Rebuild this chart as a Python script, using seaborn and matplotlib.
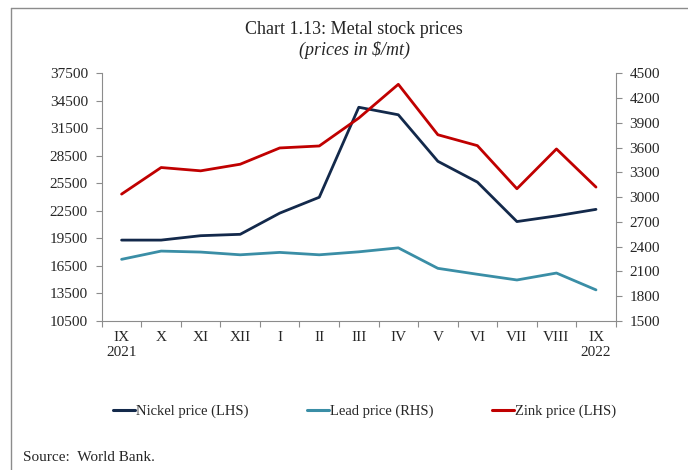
import pandas as pd
import seaborn as sns
import matplotlib.pyplot as plt
from matplotlib.lines import Line2D

# Monthly metal prices, $/mt
months = ['IX\n2021', 'X', 'XI', 'XII', 'I', 'II', 'III', 'IV', 'V', 'VI', 'VII', 'VIII', 'IX\n2022']
nickel = [19320, 19320, 19800, 19950, 22260, 23990, 33800, 32980, 27910, 25640, 21340, 21960, 22670]
lead = [2247, 2347, 2335, 2302, 2331, 2302, 2338, 2386, 2138, 2066, 1997, 2081, 1877]
zink = [3037, 3359, 3319, 3399, 3596, 3620, 3958, 4367, 3756, 3624, 3102, 3584, 3122]

left_ticks = list(range(10500, 37501, 3000))
right_ticks = list(range(1500, 4501, 300))

data = pd.DataFrame({'pos': range(len(months)), 'Nickel': nickel, 'Lead': lead, 'Zink': zink})

sns.set_style('white')
plt.rcParams['font.family'] = ['Liberation Serif', 'DejaVu Serif']

c_nickel = '#13294b'
c_lead = '#3a8ea6'
c_zink = '#c00000'
grey = '#8c8c8c'

fig = plt.figure(figsize=(6.88, 4.70), dpi=100)
ax = fig.add_axes([0.148, 0.317, 0.747, 0.527])
ax2 = ax.twinx()

sns.lineplot(x='pos', y='Nickel', data=data, ax=ax, color=c_nickel, lw=2.0, legend=False)
sns.lineplot(x='pos', y='Lead', data=data, ax=ax2, color=c_lead, lw=2.0, legend=False)
sns.lineplot(x='pos', y='Zink', data=data, ax=ax2, color=c_zink, lw=2.0, legend=False)

ax.set_xlim(-0.5, len(months) - 0.5)
ax.set_ylim(left_ticks[0], left_ticks[-1])
ax2.set_ylim(right_ticks[0], right_ticks[-1])
ax.set_yticks(left_ticks)
ax.set_yticklabels([str(v) for v in left_ticks])
ax2.set_yticks(right_ticks)
ax2.set_yticklabels([str(v) for v in right_ticks])
ax.set_xticks(range(len(months)))
ax.set_xticklabels(months)
ax.set_xticks([i - 0.5 for i in range(len(months) + 1)], minor=True)
ax.set_xlabel('')
ax.set_ylabel('')
ax2.set_ylabel('')

ax.tick_params(axis='x', which='major', length=0, pad=7, labelsize=11)
ax.tick_params(axis='x', which='minor', length=4, color=grey, width=0.8, bottom=True)
ax.tick_params(axis='y', length=4, color=grey, width=0.8, left=True, labelsize=11, pad=6)
ax2.tick_params(axis='y', length=4, color=grey, width=0.8, right=True, labelsize=11, pad=6)

for a in (ax, ax2):
    for s in a.spines.values():
        s.set_visible(False)
ax.spines['left'].set_visible(True)
ax.spines['bottom'].set_visible(True)
ax2.spines['right'].set_visible(True)
for s in (ax.spines['left'], ax.spines['bottom'], ax2.spines['right']):
    s.set_color(grey)
    s.set_linewidth(0.8)

fig.text(0.515, 0.937, 'Chart 1.13: Metal stock prices', ha='center', va='center', fontsize=13)
fig.text(0.515, 0.893, '(prices in $/mt)', ha='center', va='center', fontsize=13, style='italic')

handles = [Line2D([], [], color=c_nickel, lw=2.2),
           Line2D([], [], color=c_lead, lw=2.2),
           Line2D([], [], color=c_zink, lw=2.2)]
fig.legend(handles, ['Nickel price (LHS)', 'Lead price (RHS)', 'Zink price (LHS)'],
           loc='center', bbox_to_anchor=(0.53, 0.125), ncol=3, frameon=False,
           fontsize=10.5, handlelength=1.5, handletextpad=0.1, columnspacing=4.0)

fig.text(0.033, 0.027, 'Source:  World Bank.', fontsize=11, ha='left', va='center')

# page frame on the left and top
fig.add_artist(Line2D([0.016, 0.016], [0, 0.983], color=grey, lw=1.0, transform=fig.transFigure))
fig.add_artist(Line2D([0.016, 1.0], [0.983, 0.983], color=grey, lw=1.0, transform=fig.transFigure))

fig.savefig('out.png', dpi=100)
